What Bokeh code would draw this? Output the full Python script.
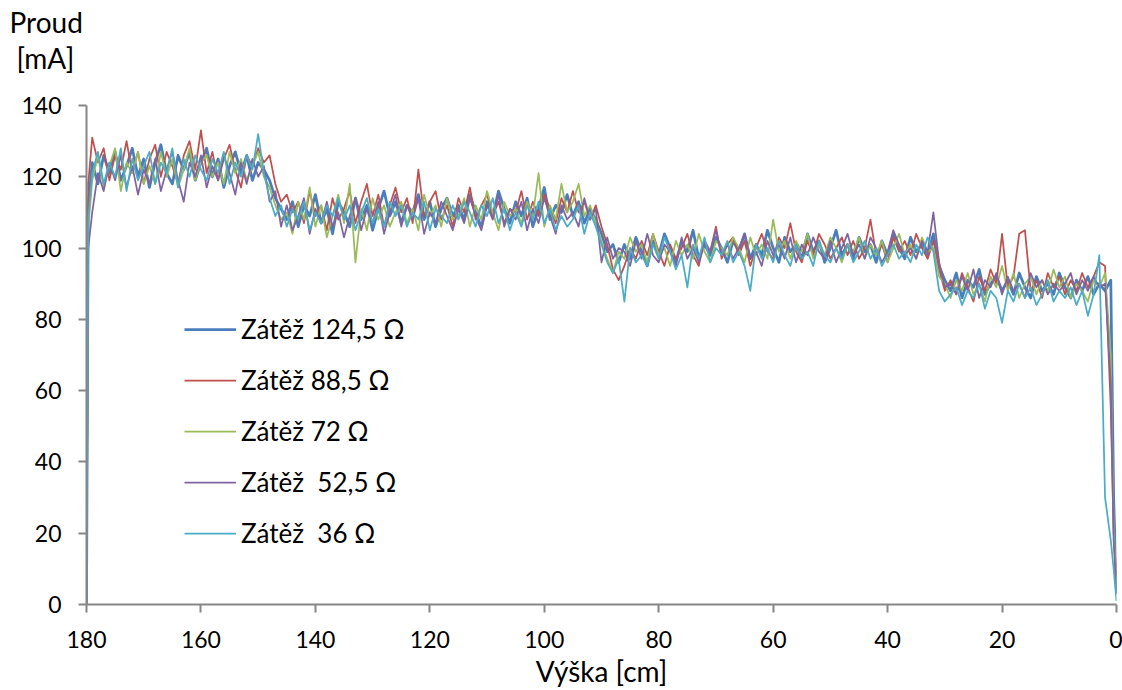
from bokeh.plotting import figure
from bokeh.models import Range1d, Legend, LegendItem, Title, FixedTicker
from bokeh.embed import file_html
from bokeh.resources import INLINE

# sample positions (height in cm)
heights = [180, 179.7] + list(range(179, 0, -1)) + [0.5, 0]

series_names = ["Zátěž 124,5 Ω", "Zátěž 88,5 Ω", "Zátěž 72 Ω", "Zátěž  52,5 Ω", "Zátěž  36 Ω"]
colors = ["#4A7EBB", "#C0504D", "#9BBB59", "#8064A2", "#4BACC6"]

z124 = [0, 112,
        124, 118, 126, 121, 127, 119, 123, 128, 120, 125,
        117, 124, 129, 121, 118, 126, 122, 127, 119, 124,
        128, 120, 125, 117, 123, 127, 121, 126, 119, 124, 122,
        119, 114, 111,
        108, 113, 106, 112, 109, 115, 107, 111, 104, 113,
        110, 106, 114, 108, 112, 105, 111, 116, 109, 113,
        107, 112, 110, 115, 108, 113, 106, 111, 114, 109,
        112, 108, 115, 110, 106, 113, 109, 116, 111, 107,
        113, 109, 114, 106, 111, 117, 108, 112, 110, 115,
        109, 113, 107, 111, 108,
        104, 99, 101, 96,
        101, 97, 103, 99, 95, 102, 98, 104, 100, 96,
        102, 99, 105, 97, 101, 98, 103, 100, 96, 102,
        99, 104, 97, 101, 98, 105, 100, 96, 103, 99,
        101, 97, 104, 99, 102, 96, 100, 105, 98, 101,
        97, 103, 99, 101, 96, 102, 98, 104, 100, 97,
        103, 99, 101, 98, 104,
        95, 91,
        88, 93, 86, 91, 89, 94, 87, 90, 92, 88,
        91, 87, 93, 89, 86, 92, 88, 90, 87, 93,
        89, 86, 91, 88, 92, 87, 90, 88, 91,
        30, 3]

z88 = [0, 118,
       131, 124, 128, 119, 126, 122, 130, 121, 127, 118,
       125, 129, 120, 127, 123, 118, 126, 130, 122, 133,
       121, 127, 119, 125, 129, 122, 117, 126, 123, 128, 124,
       126, 118, 113,
       115, 110, 113, 107, 116, 109, 112, 105, 114, 108,
       111, 116, 107, 113, 118, 109, 115, 106, 112, 117,
       110, 114, 107, 122, 109, 113, 116, 108, 112, 106,
       114, 110, 117, 108, 112, 115, 109, 113, 107, 111,
       110, 116, 108, 113, 109, 115, 111, 107, 114, 110,
       116, 110, 113, 108, 112,
       106, 101, 94, 91,
       95, 100, 97, 102, 98, 104, 99, 95, 101, 97,
       100, 104, 98, 95, 102, 99, 106, 97, 101, 103,
       98, 102, 95, 100, 104, 99, 97, 103, 100, 107,
       99, 96, 102, 98, 104, 101, 97, 100, 103, 98,
       102, 97, 100, 108, 98, 101, 96, 103, 99, 102,
       98, 104, 100, 97, 102,
       94, 88,
       91, 87, 93, 89, 85, 92, 88, 94, 90, 104,
       89, 92, 104, 105, 88, 91, 86, 93, 89, 92,
       87, 91, 88, 93, 89, 92, 96, 95, 55,
       20, 8]

z72 = [0, 105,
       119, 126, 117, 123, 128, 116, 124, 121, 127, 118,
       123, 118, 127, 120, 125, 117, 122, 128, 119, 124,
       126, 120, 124, 118, 127, 121, 125, 119, 123, 127, 120,
       117, 112, 108,
       110, 104, 113, 108, 117, 106, 112, 103, 109, 115,
       107, 118, 96, 111, 105, 114, 108, 112, 106, 110,
       113, 107, 111, 105, 115, 109, 112, 106, 114, 108,
       109, 114, 106, 112, 108, 116, 110, 105, 113, 109,
       111, 107, 113, 109, 121, 106, 112, 108, 118, 110,
       113, 118, 109, 112, 107,
       102, 97, 93, 99,
       97, 103, 99, 101, 96, 104, 98, 100, 95, 102,
       98, 101, 97, 104, 99, 96, 102, 100, 98, 103,
       100, 96, 103, 98, 101, 97, 108, 99, 102, 97,
       102, 99, 104, 97, 101, 98, 103, 100, 96, 101,
       99, 103, 97, 101, 98, 102, 96, 100, 104, 98,
       101, 97, 103, 99, 100,
       92, 90,
       86, 91, 88, 93, 87, 90, 85, 92, 89, 95,
       88, 93, 86, 90, 92, 87, 91, 88, 94, 89,
       92, 86, 90, 88, 85, 91, 89, 93, 70,
       22, 4]

z52 = [0, 100,
       110, 121, 116, 124, 119, 126, 117, 123, 115, 122,
       118, 125, 116, 122, 127, 119, 113, 124, 120, 126,
       117, 123, 119, 126, 121, 115, 124, 118, 125, 120, 123,
       113, 116, 106,
       112, 105, 109, 114, 104, 111, 107, 113, 106, 110,
       103, 109, 114, 105, 111, 107, 113, 104, 110, 115,
       106, 112, 108, 114, 104, 110, 107, 113, 109, 105,
       111, 107, 114, 109, 105, 112, 108, 115, 106, 111,
       108, 113, 105, 111, 107, 114, 109, 104, 112, 108,
       110, 106, 114, 108, 111,
       96, 103, 97, 100,
       99, 95, 102, 97, 104, 98, 96, 101, 99, 95,
       103, 97, 100, 96, 102, 99, 105, 98, 101, 97,
       100, 104, 97, 99, 95, 102, 98, 101, 97, 103,
       96, 101, 98, 103, 99, 97, 102, 96, 100, 104,
       98, 101, 97, 103, 100, 96, 99, 105, 101, 98,
       100, 97, 102, 99, 110,
       96, 89,
       90, 87, 92, 88, 94, 86, 91, 89, 93, 87,
       92, 88, 90, 86, 93, 89, 91, 87, 90, 88,
       90, 93, 87, 91, 88, 92, 89, 90, 62,
       18, 3]

z36 = [0, 108,
       121, 127, 118, 124, 120, 128, 116, 125, 119, 123,
       127, 118, 124, 121, 128, 117, 125, 120, 126, 122,
       119, 125, 121, 127, 118, 124, 120, 126, 122, 132, 121,
       114, 109, 112,
       106, 111, 108, 113, 105, 110, 107, 112, 109, 114,
       108, 112, 105, 110, 114, 107, 111, 106, 113, 109,
       112, 106, 110, 108, 113, 105, 111, 109, 107, 112,
       108, 113, 110, 106, 112, 109, 114, 107, 111, 105,
       110, 106, 112, 108, 113, 107, 111, 105, 109, 106,
       108, 112, 104, 110, 106,
       101, 96, 93, 97,
       85, 100, 96, 98, 95, 101, 97, 103, 99, 94,
       98, 89, 101, 97, 103, 96, 100, 98, 102, 96,
       99, 95, 88, 101, 97, 100, 96, 102, 98, 95,
       101, 97, 99, 95, 102, 98, 96, 100, 97, 101,
       96, 99, 102, 97, 100, 95, 98, 101, 97, 99,
       96, 101, 98, 103, 99,
       88, 85,
       87, 89, 84, 88, 86, 90, 83, 88, 86, 79,
       88, 85, 90, 86, 89, 84, 87, 91, 85, 88,
       86, 89, 84, 88, 81, 87, 98, 30, 18,
       10, 1]

series = [z124, z88, z72, z52, z36]
widths = [2.75, 1.75, 1.75, 1.75, 1.75]

x_ticks = [180, 160, 140, 120, 100, 80, 60, 40, 20, 0]
y_ticks = [0, 20, 40, 60, 80, 100, 120, 140]

FONT = "Lato"
AX = "#868686"

p = figure(width=1122, height=690, output_backend="svg", toolbar_location=None,
           x_range=Range1d(180, 0), y_range=Range1d(0, 140),
           min_border_left=86, min_border_right=6, min_border_top=105, min_border_bottom=85)
p.outline_line_color = None
p.grid.visible = False

for ax in (p.xaxis[0], p.yaxis[0]):
    ax.axis_line_color = AX
    ax.axis_line_width = 2
    ax.major_tick_line_color = AX
    ax.major_tick_line_width = 2
    ax.major_tick_out = 8
    ax.major_tick_in = 0
    ax.minor_tick_line_color = None
    ax.major_label_text_font = FONT
    ax.major_label_text_font_size = "23px"
    ax.major_label_text_color = "black"

p.xaxis.ticker = FixedTicker(ticks=x_ticks)
p.yaxis.ticker = FixedTicker(ticks=y_ticks)
p.xaxis.major_label_standoff = 18
p.yaxis.major_label_standoff = 17
p.xaxis.axis_label = "Výška [cm]"
p.xaxis.axis_label_text_font = FONT
p.xaxis.axis_label_text_font_size = "28px"
p.xaxis.axis_label_text_font_style = "normal"
p.xaxis.axis_label_text_color = "black"
p.xaxis.axis_label_standoff = 3

renderers = []
for vals, c, w in zip(series, colors, widths):
    r = p.line(heights, vals, line_color=c, line_width=w, line_join="round")
    renderers.append(r)

legend = Legend(items=[LegendItem(label=n, renderers=[r]) for n, r in zip(series_names, renderers)],
                location=(98, 55), padding=0, margin=0, spacing=19,
                glyph_width=52, glyph_height=30, label_height=30, label_standoff=5,
                label_text_font=FONT, label_text_font_size="26px", label_text_color="black",
                border_line_color=None, background_fill_alpha=0)
p.add_layout(legend)

# spacer between the frame and the y-axis title
p.add_layout(Title(text=" ", align="left", standoff=28, text_font=FONT,
                   text_font_size="1px", text_color="white"), "above")
# y-axis title, two lines above the axis (lower line first)
p.add_layout(Title(text="[mA]", align="left", offset=-70, standoff=0,
                   vertical_align="bottom",
                   text_font=FONT, text_font_size="28px", text_font_style="normal",
                   text_color="black"), "above")
p.add_layout(Title(text="Proud", align="left", offset=-77, standoff=0,
                   vertical_align="bottom",
                   text_font=FONT, text_font_size="28px", text_font_style="normal",
                   text_color="black"), "above")

open("out.html", "w").write(file_html(p, INLINE))
